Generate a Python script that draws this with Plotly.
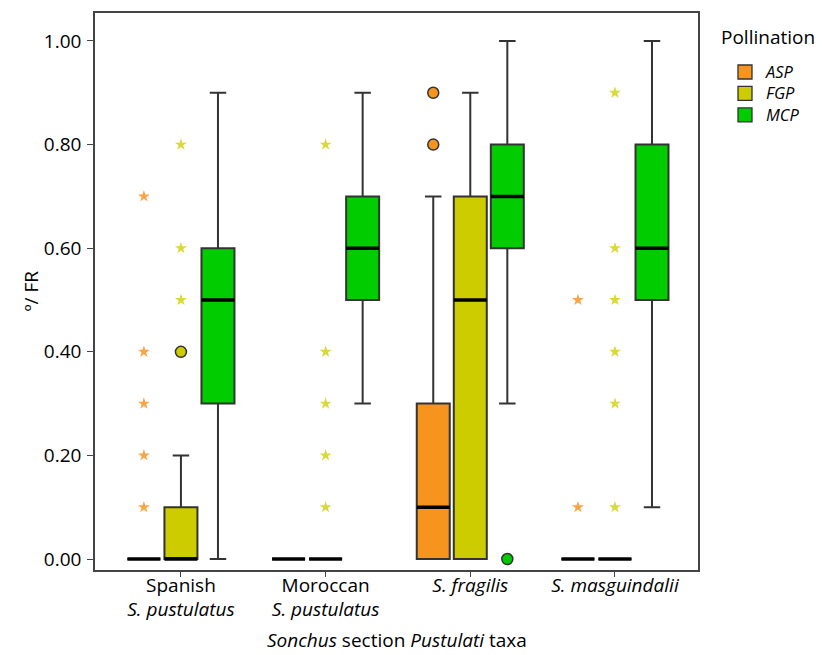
import plotly.graph_objects as go

# Taxa (x categories) and pollination groups
taxa = ["Spanish<br><i>S. pustulatus</i>", "Moroccan<br><i>S. pustulatus</i>",
        "<i>S. fragilis</i>", "<i>S. masguindalii</i>"]
groups = ["ASP", "FGP", "MCP"]

# Box statistics per group, one value per taxon
asp_q1 = [0.0, 0.0, 0.0, 0.0]
asp_med = [0.0, 0.0, 0.1, 0.0]
asp_q3 = [0.0, 0.0, 0.3, 0.0]
asp_lo = [0.0, 0.0, 0.0, 0.0]
asp_hi = [0.0, 0.0, 0.7, 0.0]

fgp_q1 = [0.0, 0.0, 0.0, 0.0]
fgp_med = [0.0, 0.0, 0.5, 0.0]
fgp_q3 = [0.1, 0.0, 0.7, 0.0]
fgp_lo = [0.0, 0.0, 0.0, 0.0]
fgp_hi = [0.2, 0.0, 0.9, 0.0]

mcp_q1 = [0.3, 0.5, 0.6, 0.5]
mcp_med = [0.5, 0.6, 0.7, 0.6]
mcp_q3 = [0.6, 0.7, 0.8, 0.8]
mcp_lo = [0.0, 0.3, 0.3, 0.1]
mcp_hi = [0.9, 0.9, 1.0, 1.0]

# Outliers (circles) and extreme values (stars), per taxon
asp_out = [[], [], [0.8, 0.9], []]
fgp_out = [[0.4], [], [], []]
mcp_out = [[], [], [0.0], []]

asp_ext = [[0.1, 0.2, 0.3, 0.4, 0.7], [], [], [0.1, 0.5]]
fgp_ext = [[0.5, 0.6, 0.8], [0.1, 0.2, 0.3, 0.4, 0.8], [], [0.1, 0.3, 0.4, 0.5, 0.6, 0.9]]
mcp_ext = [[], [], [], []]

y_ticks = [0.0, 0.2, 0.4, 0.6, 0.8, 1.0]

colors = {"ASP": "#F7941D", "FGP": "#CCCC00", "MCP": "#00CC00"}
star_colors = {"ASP": "#F9A445", "FGP": "#D9D93A", "MCP": "#40D940"}
stats = {
    "ASP": (asp_q1, asp_med, asp_q3, asp_lo, asp_hi, asp_out, asp_ext),
    "FGP": (fgp_q1, fgp_med, fgp_q3, fgp_lo, fgp_hi, fgp_out, fgp_ext),
    "MCP": (mcp_q1, mcp_med, mcp_q3, mcp_lo, mcp_hi, mcp_out, mcp_ext),
}

FONT = "Open Sans"
EDGE = "#333333"
box_w = 0.228
offsets = {"ASP": -0.256, "FGP": 0.0, "MCP": 0.256}

# plot-area geometry in pixels (for the hand-built legend and titles)
W, H = 826, 655
ML, MR, MT, MB = 95, 128, 13, 85
PW, PH = W - ML - MR, H - MT - MB


def px_x(px):
    return (px - ML) / PW


def px_y(py):
    return (H - MB - py) / PH


fig = go.Figure()

for g in groups:
    q1, med, q3, lo, hi, outs, exts = stats[g]
    xs = [i + offsets[g] for i in range(len(taxa))]
    fig.add_trace(go.Box(
        x=xs, q1=q1, median=med, q3=q3, lowerfence=lo, upperfence=hi,
        width=box_w, whiskerwidth=0.5, fillcolor=colors[g],
        line=dict(color=EDGE, width=2), boxpoints=False,
        showlegend=False, hoverinfo="skip",
    ))
    # thick median bars
    mx, my = [], []
    for x, m in zip(xs, med):
        mx += [x - box_w / 2, x + box_w / 2, None]
        my += [m, m, None]
    fig.add_trace(go.Scatter(x=mx, y=my, mode="lines",
                             line=dict(color="black", width=3.5),
                             showlegend=False, hoverinfo="skip"))
    # outliers
    ox, oy = [], []
    for x, vals in zip(xs, outs):
        ox += [x] * len(vals)
        oy += vals
    if ox:
        fig.add_trace(go.Scatter(x=ox, y=oy, mode="markers",
                                 marker=dict(symbol="circle", size=11, color=colors[g],
                                             line=dict(color=EDGE, width=1.5)),
                                 showlegend=False, hoverinfo="skip"))
    # extremes
    ex, ey = [], []
    for x, vals in zip(xs, exts):
        ex += [x] * len(vals)
        ey += vals
    if ex:
        fig.add_trace(go.Scatter(x=ex, y=ey, mode="markers",
                                 marker=dict(symbol="star", size=9, color=star_colors[g],
                                             line=dict(width=0)),
                                 showlegend=False, hoverinfo="skip"))

# legend: title, swatches and one block of labels
LEG_FS = 16.5
LEG_STEP = LEG_FS * 1.3
LEG_TOP = 72
annotations = [dict(text="Pollination", xref="paper", yref="paper",
                    x=px_x(719), y=px_y(37), xanchor="left", yanchor="middle",
                    showarrow=False, font=dict(family=FONT, size=19, color="black"))]
shapes = []
for k, g in enumerate(groups):
    cy = LEG_TOP + LEG_STEP * k
    shapes.append(dict(type="rect", xref="paper", yref="paper",
                       x0=px_x(738), x1=px_x(752), y0=px_y(cy + 7), y1=px_y(cy - 7),
                       fillcolor=colors[g], line=dict(color=EDGE, width=1.3)))
annotations.append(dict(text="<br>".join(f"<i>{g}</i>" for g in groups),
                        xref="paper", yref="paper", align="left",
                        x=px_x(763), y=px_y(LEG_TOP + LEG_STEP), xanchor="left",
                        yanchor="middle", showarrow=False,
                        font=dict(family=FONT, size=LEG_FS, color="black")))

# axis titles
annotations.append(dict(text="<i>Sonchus</i> section <i>Pustulati</i> taxa",
                        xref="paper", yref="paper", x=0.5, y=px_y(640),
                        xanchor="center", yanchor="middle", showarrow=False,
                        font=dict(family=FONT, size=19, color="black")))
annotations.append(dict(text="º/ FR", textangle=-90,
                        xref="paper", yref="paper", x=px_x(30), y=0.5,
                        xanchor="center", yanchor="middle", showarrow=False,
                        font=dict(family=FONT, size=19, color="black")))

fig.update_layout(
    width=W, height=H,
    margin=dict(l=ML, r=MR, t=MT, b=MB),
    paper_bgcolor="white", plot_bgcolor="white",
    font=dict(family=FONT, size=19, color="black"),
    showlegend=False,
    annotations=annotations,
    shapes=shapes,
)
fig.update_xaxes(
    range=[-0.594, 3.574], tickmode="array",
    tickvals=list(range(len(taxa))), ticktext=taxa,
    showline=True, mirror=True, linecolor="#444444", linewidth=1.5,
    ticks="outside", ticklen=5, tickcolor="#444444",
    showgrid=False, zeroline=False, automargin=False,
    ticklabelstandoff=-8,
    tickfont=dict(size=19),
)
fig.update_yaxes(
    range=[-0.0212, 1.054], tickmode="array", tickvals=y_ticks,
    tickformat=".2f",
    showline=True, mirror=True, linecolor="#444444", linewidth=1.5,
    ticks="outside", ticklen=6, tickcolor="#444444",
    showgrid=False, zeroline=False, automargin=False,
    ticklabelstandoff=2,
    tickfont=dict(size=19),
)

fig.write_html("out.html")
